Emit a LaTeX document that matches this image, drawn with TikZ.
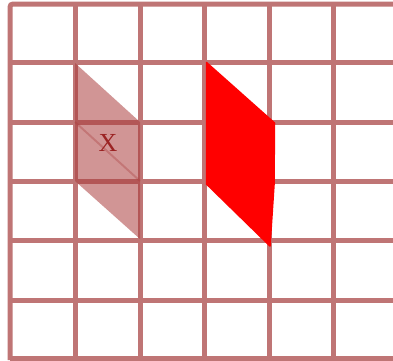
\documentclass[tikz,border=0pt]{standalone}
\usepackage{tikz}
\usepackage{fontspec}
\setmainfont{Liberation Serif}
\definecolor{gridc}{RGB}{191,117,117}
\definecolor{shadec}{RGB}{170,60,60}
\definecolor{xc}{RGB}{155,35,35}
\definecolor{redc}{RGB}{255,0,0}
\tikzset{
  gridline/.style={draw=gridc, line width=5pt, line cap=butt},
  shadefill/.style={fill=shadec, fill opacity=0.54},
  shadeedge/.style={draw=shadec, line width=2pt, draw opacity=0.35},
  redshape/.style={fill=redc, draw=redc, line width=1.5pt, line join=round},
  xlabel/.style={text=xc, font=\fontsize{26}{26}\selectfont, inner sep=0pt}
}
\begin{document}
\begin{tikzpicture}[x=1pt,y=-1pt]
\useasboundingbox (0,0) rectangle (393,360);
% grid
\foreach \yy in {62,122,181,240,300,358} {
  \draw[gridline] (10,\yy) -- (395,\yy);
}
\foreach \xx in {75,140,204,269,333} {
  \draw[gridline] (\xx,4) -- (\xx,360);
}
\draw[gridline, rounded corners=3pt] (395,4) -- (10,4) -- (10,360);
% shaded parallelogram
\fill[shadefill] (75,63) -- (140,122) -- (140,239) -- (75,181) -- cycle;
\draw[shadeedge] (75,122) -- (140,181);
\node[xlabel] (xl) at (108,143) {X};
% red shape
\draw[redshape] (206.5,62.5) -- (274.5,123) -- (274,185) -- (270,246) -- (206.5,184) -- cycle;
\end{tikzpicture}
\end{document}
